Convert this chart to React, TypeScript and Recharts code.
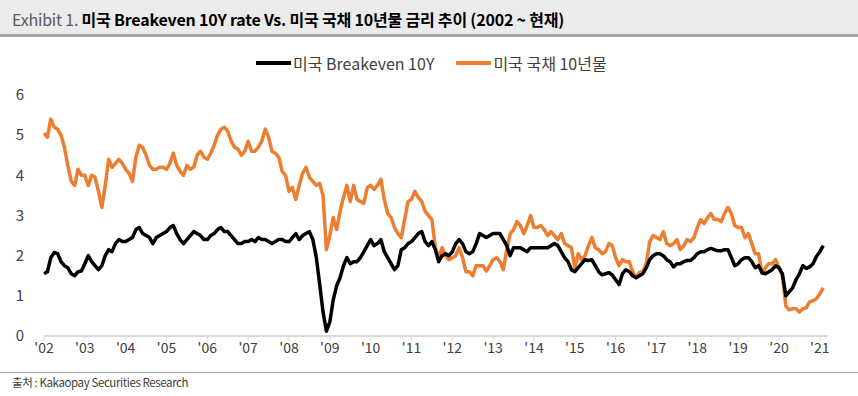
import React from "react"
import { LineChart, Line, XAxis, YAxis } from "recharts"

// monthly readings, Jan 2002 ~ Feb 2021
const startYear = 2002

const breakeven10y = [
  // 2002
  1.55, 1.6, 1.95, 2.08, 2.05, 1.85, 1.75, 1.7, 1.55, 1.5, 1.6, 1.62,
  // 2003
  1.8, 2.0, 1.85, 1.75, 1.65, 1.75, 2.0, 2.15, 2.1, 2.3, 2.4, 2.35,
  // 2004
  2.35, 2.4, 2.45, 2.65, 2.7, 2.55, 2.5, 2.45, 2.3, 2.45, 2.5, 2.55,
  // 2005
  2.6, 2.7, 2.75, 2.55, 2.4, 2.3, 2.4, 2.5, 2.6, 2.55, 2.5, 2.4,
  // 2006
  2.4, 2.5, 2.55, 2.65, 2.7, 2.6, 2.6, 2.5, 2.4, 2.3, 2.3, 2.35,
  // 2007
  2.35, 2.4, 2.35, 2.45, 2.4, 2.4, 2.35, 2.3, 2.35, 2.4, 2.4, 2.35,
  // 2008
  2.35, 2.45, 2.55, 2.4, 2.5, 2.55, 2.6, 2.4, 1.97, 1.3, 0.6, 0.12,
  // 2009
  0.35, 0.9, 1.25, 1.45, 1.75, 1.95, 1.8, 1.85, 1.85, 1.95, 2.1, 2.25,
  // 2010
  2.4, 2.25, 2.3, 2.4, 2.1, 1.95, 1.8, 1.65, 1.75, 2.15, 2.2, 2.3,
  // 2011
  2.35, 2.45, 2.55, 2.6, 2.35, 2.25, 2.35, 2.15, 1.85, 2.0, 2.05, 2.0,
  // 2012
  2.1, 2.3, 2.4, 2.3, 2.1, 2.05, 2.1, 2.3, 2.55, 2.5, 2.45, 2.5,
  // 2013
  2.55, 2.55, 2.55, 2.4, 2.25, 2.0, 2.2, 2.2, 2.2, 2.15, 2.1, 2.2,
  // 2014
  2.2, 2.2, 2.2, 2.2, 2.2, 2.25, 2.3, 2.25, 2.1, 1.95, 1.85, 1.65,
  // 2015
  1.6, 1.7, 1.8, 1.9, 1.88, 1.9, 1.75, 1.6, 1.52, 1.55, 1.58, 1.52,
  // 2016
  1.4, 1.28, 1.55, 1.65, 1.6, 1.5, 1.45, 1.5, 1.55, 1.7, 1.9, 2.0,
  // 2017
  2.05, 2.05, 2.0, 1.9, 1.85, 1.72, 1.8, 1.8, 1.85, 1.88, 1.88, 1.95,
  // 2018
  2.05, 2.1, 2.1, 2.15, 2.18, 2.15, 2.12, 2.12, 2.15, 2.15, 1.95, 1.75,
  // 2019
  1.8, 1.9, 1.95, 1.95, 1.85, 1.7, 1.75, 1.58, 1.55, 1.6, 1.65, 1.75,
  // 2020
  1.7, 1.55, 1.0, 1.1, 1.2, 1.4, 1.55, 1.75, 1.68, 1.72, 1.8, 1.98,
  // 2021
  2.1, 2.25,
]

const treasury10y = [
  // 2002
  5.05, 4.95, 5.4, 5.2, 5.15, 5.0, 4.7, 4.25, 3.85, 3.75, 4.15, 4.0,
  // 2003
  4.0, 3.75, 4.0, 3.95, 3.6, 3.2, 3.75, 4.4, 4.2, 4.3, 4.4, 4.3,
  // 2004
  4.15, 4.05, 3.85, 4.45, 4.75, 4.7, 4.5, 4.25, 4.15, 4.15, 4.2, 4.2,
  // 2005
  4.15, 4.3, 4.55, 4.25, 4.1, 4.0, 4.25, 4.15, 4.2, 4.5, 4.6, 4.45,
  // 2006
  4.4, 4.55, 4.75, 5.0, 5.15, 5.2, 5.1, 4.85, 4.7, 4.65, 4.5, 4.6,
  // 2007
  4.85, 4.6, 4.6, 4.7, 4.85, 5.15, 4.95, 4.6, 4.55, 4.45, 4.1, 4.0,
  // 2008
  3.6, 3.7, 3.4, 3.75, 4.05, 4.2, 3.95, 3.85, 3.75, 3.8, 3.5, 2.15,
  // 2009
  2.5, 2.95, 2.65, 3.1, 3.45, 3.75, 3.35, 3.75, 3.4, 3.35, 3.3, 3.7,
  // 2010
  3.75, 3.65, 3.75, 3.9, 3.4, 3.05, 2.95, 2.7, 2.55, 2.45, 2.9, 3.35,
  // 2011
  3.4, 3.6, 3.45, 3.35, 3.1, 3.0, 2.9, 2.2, 1.95, 2.2, 2.0, 1.9,
  // 2012
  1.95, 2.0, 2.2, 1.95, 1.6, 1.6, 1.5, 1.75, 1.75, 1.75, 1.62, 1.75,
  // 2013
  1.9, 1.95, 1.85, 1.65, 2.15, 2.55, 2.65, 2.85, 2.75, 2.55, 2.75, 3.0,
  // 2014
  2.7, 2.7, 2.75, 2.65, 2.5, 2.6, 2.5, 2.4, 2.55, 2.3, 2.25, 2.2,
  // 2015
  1.7, 2.05, 1.9, 2.0, 2.25, 2.45, 2.2, 2.15, 2.05, 2.1, 2.3, 2.25,
  // 2016
  1.95, 1.75, 1.9, 1.85, 1.85, 1.6, 1.45, 1.58, 1.6, 1.8, 2.35, 2.5,
  // 2017
  2.45, 2.4, 2.6, 2.3, 2.25, 2.3, 2.4, 2.15, 2.25, 2.4, 2.35, 2.45,
  // 2018
  2.7, 2.9, 2.8, 2.95, 3.05, 2.9, 2.9, 2.85, 3.05, 3.2, 3.05, 2.75,
  // 2019
  2.7, 2.7, 2.45, 2.55, 2.3, 2.05, 2.05, 1.55, 1.7, 1.8, 1.8, 1.9,
  // 2020
  1.7, 1.5, 0.75, 0.65, 0.68, 0.68, 0.6, 0.68, 0.7, 0.85, 0.88, 0.93,
  // 2021
  1.05, 1.2,
]

const yearTicks = [
  2002, 2003, 2004, 2005, 2006, 2007, 2008, 2009, 2010, 2011,
  2012, 2013, 2014, 2015, 2016, 2017, 2018, 2019, 2020, 2021,
]
const rateTicks = [0, 1, 2, 3, 4, 5, 6]

const data = breakeven10y.map((v, i) => ({
  t: startYear + i / 12,
  breakeven: v,
  treasury: treasury10y[i],
}))

const FONT = "'Noto Sans CJK KR', 'Noto Sans', sans-serif"
const TEXT = "#404040"
const ORANGE = "#ED7D31"

export default function App() {
  return (
    <div
      style={{
        position: "absolute",
        left: 0,
        top: 0,
        width: 858,
        height: 396,
        background: "#fff",
        fontFamily: FONT,
        overflow: "hidden",
      }}
    >
      {/* title bar */}
      <div
        style={{
          position: "absolute",
          left: 0,
          top: 0,
          width: 858,
          height: 34,
          background: "#ebebeb",
          borderBottom: "3px solid #a6a6a6",
        }}
      >
        <div style={{ position: "absolute", left: 12, top: 7, fontSize: 16, fontWeight: 700, letterSpacing: -0.2, whiteSpace: "nowrap" }}>
          <span style={{ color: "#595959", fontWeight: 400 }}>Exhibit 1. </span>
          <span style={{ color: "#000" }}>미국 Breakeven 10Y rate Vs. 미국 국채 10년물 금리 추이 (2002 ~ 현재)</span>
        </div>
      </div>

      {/* legend */}
      <div
        style={{
          position: "absolute",
          top: 51,
          left: 256,
          display: "flex",
          alignItems: "center",
          fontSize: 16,
          color: TEXT,
          whiteSpace: "nowrap",
        }}
      >
        <span style={{ display: "inline-block", width: 35, height: 4, background: "#000", marginRight: 2 }} />
        <span>미국 Breakeven 10Y</span>
        <span style={{ display: "inline-block", width: 35, height: 4, background: ORANGE, marginLeft: 22, marginRight: 2 }} />
        <span>미국 국채 10년물</span>
      </div>

      <div style={{ position: "absolute", left: 0, top: 0 }}>
        <LineChart width={858} height={396} data={data} margin={{ top: 95, right: 30, bottom: 36, left: 14 }}>
          <XAxis
            dataKey="t"
            type="number"
            domain={[2002, 2021.2]}
            ticks={yearTicks}
            interval={0}
            tickFormatter={(v: number) => "'" + String(v).slice(2)}
            axisLine={{ stroke: "#d9d9d9", strokeWidth: 2 }}
            tickLine={{ stroke: "#d9d9d9" }}
            tickSize={5}
            tick={{ fill: TEXT, fontSize: 14, fontFamily: FONT }}
            height={24}
          />
          <YAxis
            type="number"
            domain={[0, 6]}
            ticks={rateTicks}
            axisLine={false}
            tickLine={false}
            tickSize={0}
            tickMargin={20}
            width={30}
            tick={{ fill: TEXT, fontSize: 15, fontFamily: FONT }}
          />
          <Line
            dataKey="treasury"
            stroke={ORANGE}
            strokeWidth={3.5}
            dot={false}
            isAnimationActive={false}
            strokeLinejoin="round"
          />
          <Line
            dataKey="breakeven"
            stroke="#000"
            strokeWidth={3.5}
            dot={false}
            isAnimationActive={false}
            strokeLinejoin="round"
          />
        </LineChart>
      </div>

      {/* source */}
      <div style={{ position: "absolute", left: 0, top: 372, width: 858, height: 1, background: "#a6a6a6" }} />
      <div style={{ position: "absolute", left: 12, top: 374, fontSize: 11.5, color: TEXT, letterSpacing: -0.4 }}>
        출처 : Kakaopay Securities Research
      </div>
    </div>
  )
}
